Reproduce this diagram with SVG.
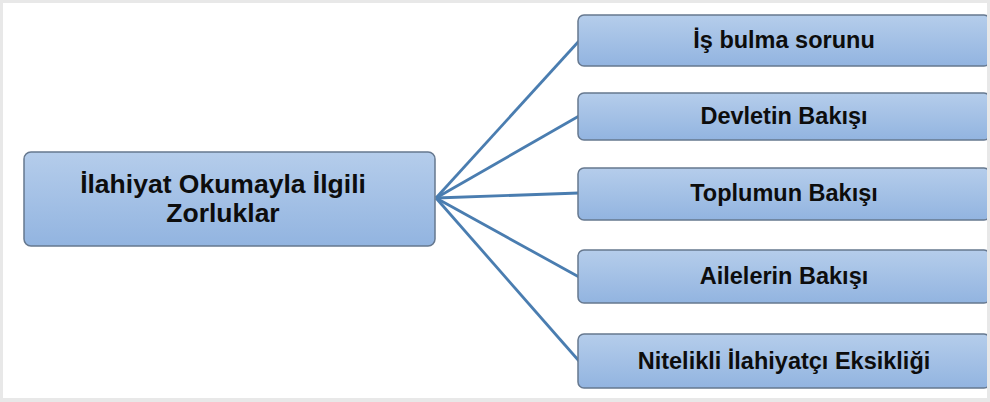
<svg xmlns="http://www.w3.org/2000/svg" width="990" height="402" viewBox="0 0 990 402">
<defs>
<linearGradient id="g" x1="0" y1="0" x2="0" y2="1">
<stop offset="0" stop-color="#b5cdeb"/>
<stop offset="1" stop-color="#92b4e0"/>
</linearGradient>
<style>
.box{fill:url(#g);stroke:#66788f;stroke-width:1.5}
.t{font-family:"Liberation Sans",Arial,sans-serif;font-weight:bold;font-size:23.5px;fill:#0d0d0d;text-anchor:middle}
.m{font-size:26.5px}
.c{stroke:#4a7db0;stroke-width:2.8;fill:none}
</style>
</defs>
<rect x="0" y="0" width="990" height="402" fill="#e8e8e8"/>
<rect x="3" y="3" width="984" height="395" fill="#ffffff"/>
<g id="connectors">
<line class="c" x1="436" y1="198" x2="579" y2="41"/>
<line class="c" x1="436" y1="198" x2="579" y2="116"/>
<line class="c" x1="436" y1="198" x2="579" y2="193"/>
<line class="c" x1="436" y1="198" x2="579" y2="277"/>
<line class="c" x1="436" y1="198" x2="579" y2="361"/>
</g>
<g id="root">
<rect class="box" x="24" y="152" width="411" height="94" rx="7"/>
<text class="t m" x="223" y="193">İlahiyat Okumayla İlgili</text>
<text class="t m" x="223" y="222">Zorluklar</text>
</g>
<g id="n1">
<rect class="box" x="578" y="15" width="412" height="51" rx="6"/>
<text class="t" x="784" y="48">İş bulma sorunu</text>
</g>
<g id="n2">
<rect class="box" x="578" y="93" width="412" height="47" rx="6"/>
<text class="t" x="784" y="124">Devletin Bakışı</text>
</g>
<g id="n3">
<rect class="box" x="578" y="168" width="412" height="52" rx="6"/>
<text class="t" x="784" y="201">Toplumun Bakışı</text>
</g>
<g id="n4">
<rect class="box" x="578" y="250" width="412" height="53" rx="6"/>
<text class="t" x="784" y="284">Ailelerin Bakışı</text>
</g>
<g id="n5">
<rect class="box" x="578" y="334" width="412" height="54" rx="6"/>
<text class="t" x="784" y="369">Nitelikli İlahiyatçı Eksikliği</text>
</g>
<rect x="987" y="0" width="3" height="402" fill="#e8e8e8"/>
</svg>
